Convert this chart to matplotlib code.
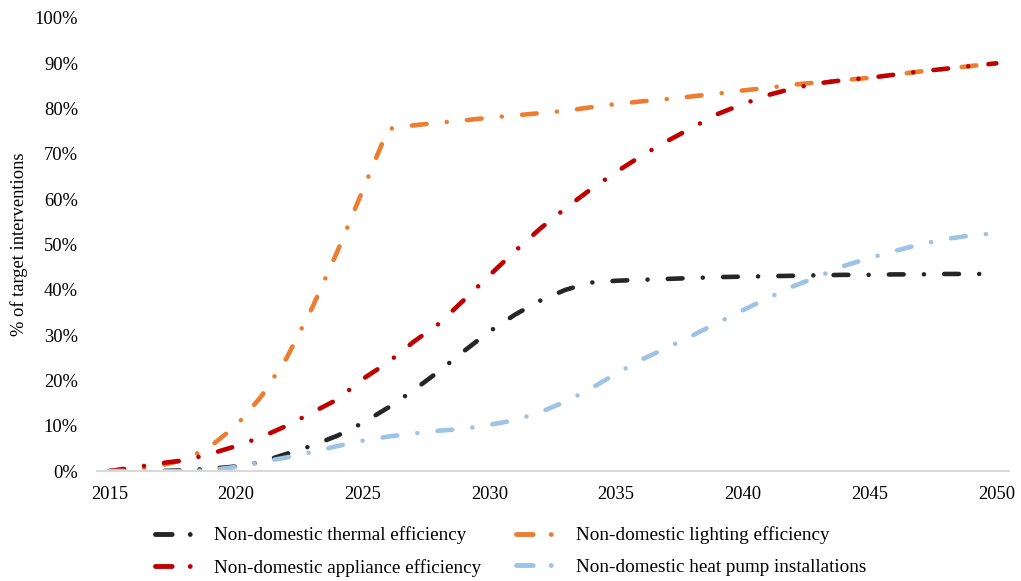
import matplotlib
matplotlib.use('Agg')
import matplotlib.pyplot as plt
from matplotlib.lines import Line2D
from matplotlib.ticker import PercentFormatter

# share of target interventions delivered, by year
years = list(range(2015, 2051))

thermal = [0, 0, 0, 0.2, 0.5, 1.0, 2.0, 3.8, 5.6, 7.8, 10.6, 14.0, 17.8, 22.0, 26.5,
           30.8, 34.5, 37.6, 40.0, 41.6, 42.0, 42.2, 42.4, 42.6, 42.8, 42.9, 43.0,
           43.1, 43.2, 43.3, 43.3, 43.4, 43.4, 43.5, 43.5, 43.5]
lighting = [0, 0.5, 1.2, 2.5, 5.5, 10.0, 16.5, 25.0, 36.0, 48.5, 62.0, 75.5, 76.3,
            76.9, 77.4, 78.0, 78.5, 79.0, 79.5, 80.3, 81.0, 81.6, 82.1, 82.7, 83.3,
            84.0, 84.6, 85.3, 85.8, 86.3, 86.8, 87.5, 88.2, 88.8, 89.4, 90.0]
appliance = [0, 0.8, 1.7, 2.4, 3.8, 5.5, 7.5, 10.0, 12.9, 15.8, 20.3, 24.0, 28.5,
             32.5, 37.8, 43.2, 48.5, 53.5, 58.0, 62.2, 66.0, 69.6, 72.8, 75.8, 78.8,
             81.0, 83.0, 84.5, 85.6, 86.3, 86.8, 87.5, 88.2, 88.8, 89.4, 90.0]
heat_pump = [0, 0, 0, 0, 0.2, 0.9, 2.0, 3.0, 4.2, 5.5, 6.7, 7.6, 8.3, 8.9, 9.3,
             10.2, 11.2, 13.0, 15.3, 18.2, 21.5, 24.6, 27.2, 29.9, 32.7, 35.5, 38.2,
             40.8, 43.0, 45.3, 47.0, 48.6, 50.0, 51.2, 52.0, 52.5]

labels = ['Non-domestic thermal efficiency', 'Non-domestic lighting efficiency',
          'Non-domestic appliance efficiency', 'Non-domestic heat pump installations']
colors = ['#262626', '#ED7D31', '#C00000', '#9DC3E6']
series = [thermal, lighting, appliance, heat_pump]

plt.rcParams['font.family'] = ['Liberation Serif', 'DejaVu Serif']
plt.rcParams['lines.scale_dashes'] = False

fig = plt.figure(figsize=(10.21, 5.81), dpi=100)
ax = fig.add_axes([96.7 / 1021, 1 - 471 / 581, (1009 - 96.7) / 1021, (471 - 18) / 581])

dash = (0, (10.6, 14.6, 0.01, 14.6))
for vals, col in zip(series, colors):
    ax.plot(years, vals, color=col, lw=3.3, linestyle=dash, dash_capstyle='round')

ax.set_xlim(2014.5, 2050.5)
ax.set_ylim(0, 100)
ax.set_xticks(range(2015, 2051, 5))
ax.set_yticks(range(0, 101, 10))
ax.yaxis.set_major_formatter(PercentFormatter(decimals=0))
ax.tick_params(axis='both', length=0, labelsize=13.3)
ax.tick_params(axis='y', pad=13.5)
ax.tick_params(axis='x', pad=10.5)

for s in ['top', 'right', 'left']:
    ax.spines[s].set_visible(False)
ax.spines['bottom'].set_color('#D9D9D9')
ax.spines['bottom'].set_linewidth(1.5)

ax.set_ylabel('% of target interventions', fontsize=13.3)
ax.yaxis.set_label_coords(-0.0753, 0.5)

# legend handles: short dash followed by a dot
handles = [Line2D([0], [0], color=c, lw=3.5, linestyle=(0, (12.0, 13.0, 0.01, 100)),
                  dash_capstyle='round') for c in colors]
order = [0, 2, 1, 3]
fig.legend([handles[i] for i in order], [labels[i] for i in order],
           ncol=2, frameon=False, loc='center', bbox_to_anchor=(0.5, 1 - 551.5 / 581),
           fontsize=13.8, handlelength=2.3, handletextpad=0.8, columnspacing=1.8,
           labelspacing=0.75)

plt.savefig('out.png', dpi=100)
